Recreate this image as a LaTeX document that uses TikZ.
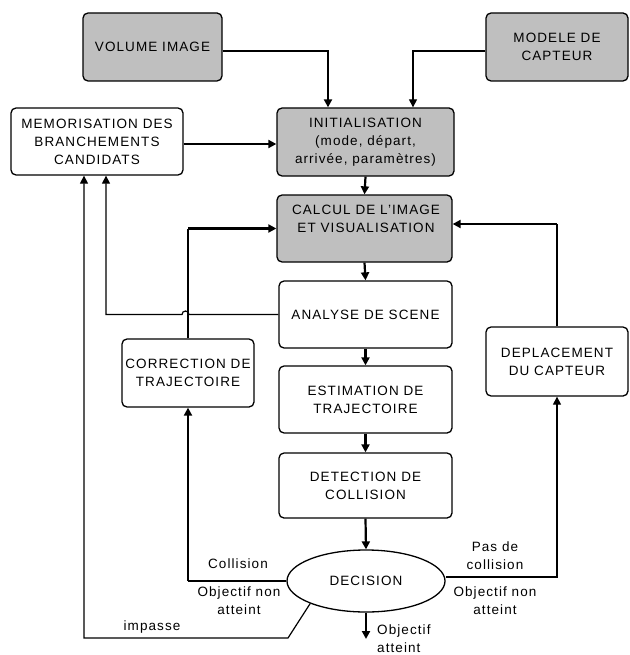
\documentclass[tikz,border=0pt]{standalone}
\usepackage{fontspec}
\setmainfont{Liberation Sans}[LetterSpace=8]
\usetikzlibrary{arrows.meta,shapes.geometric,calc}
\begin{document}
\begin{tikzpicture}[x=1pt,y=-1pt,
  txt/.style={font=\fontsize{13.5}{18}\selectfont, align=center, inner sep=0pt},
  box/.style={txt, draw, line width=1.3pt, rounded corners=5pt},
  graybox/.style={box, fill=black!25},
  thin arrow/.style={line width=1.2pt, -{Triangle[length=8pt,width=8pt]}},
  thick arrow/.style={line width=2.2pt, -{Triangle[length=8pt,width=8pt]}},
  thinline/.style={line width=1.2pt},
  thickline/.style={line width=2.2pt},
  lab/.style={txt}
]
\useasboundingbox (0,0) rectangle (629,655);

\node[graybox, minimum width=139pt, minimum height=68pt] (vol) at (152.5,47) {VOLUME IMAGE};
\node[graybox, minimum width=142pt, minimum height=68pt] (mod) at (557,47) {MODELE DE\\CAPTEUR};
\node[graybox, minimum width=177pt, minimum height=68pt] (init) at (365.5,142) {INITIALISATION\\(mode, départ,\\arrivée, paramètres)};
\node[box, minimum width=172pt, minimum height=67pt] (memo) at (97,141.5) {MEMORISATION DES\\BRANCHEMENTS\\CANDIDATS};
\node[graybox, minimum width=175pt, minimum height=67pt] (calc) at (364.5,228.5) {};
\node[txt] (calct) at (366,219) {CALCUL DE L'IMAGE\\ET VISUALISATION};
\node[box, minimum width=173pt, minimum height=67pt] (ana) at (365.5,314.5) {ANALYSE DE SCENE};
\node[box, minimum width=132pt, minimum height=68pt] (corr) at (188,373) {CORRECTION DE\\TRAJECTOIRE};
\node[box, minimum width=173pt, minimum height=67pt] (est) at (365.5,399.5) {ESTIMATION DE\\TRAJECTOIRE};
\node[box, minimum width=173pt, minimum height=65pt] (det) at (365.5,485.5) {DETECTION DE\\COLLISION};
\node[box, minimum width=142pt, minimum height=69pt] (dep) at (557,361.5) {DEPLACEMENT\\DU CAPTEUR};
\node[txt, draw, line width=1.3pt, ellipse, minimum width=158pt, minimum height=62pt] (dec) at (366,581) {DECISION};

% inputs to initialisation
\draw[thick arrow] ([yshift=-4pt]vol.east) -| ($(init.north)+(-37.5,0)$);
\draw[thin arrow] ([yshift=-4pt]mod.west) -| ($(init.north)+(47.5,0)$);
\draw[thick arrow] ([yshift=-2.5pt]memo.east) -- ([yshift=-2.5pt]memo.east -| init.west);

% main chain
\draw[thick arrow] (init.south) -- (calc.north);
\draw[thick arrow] (calc.south) -- (ana.north);
\draw[thick arrow] (ana.south) -- (est.north);
\draw[thick arrow] (est.south) -- (det.north);
\draw[thick arrow] (det.south) -- (dec.north);

% correction -> calcul
\coordinate (cc) at (corr.north |- calc.west);
\draw[thinline] (corr.north) -- (cc);
\draw[thick arrow] (cc) -- (calc.west);

% deplacement -> calcul
\coordinate (dc) at ([yshift=4.5pt]calc.east -| dep.north);
\draw[thinline] (dep.north) -- (dc);
\draw[thick arrow] (dc) -- ([yshift=4.5pt]calc.east);

% analyse -> memorisation (with hop)
\coordinate (m2) at ($(memo.south)+(9,0)$);
\coordinate (hop) at ($(ana.west -| corr.north)+(1,0)$);
\draw[thin arrow] (ana.west) -- (hop) arc[start angle=0, end angle=-180, radius=3.5] -- (ana.west -| m2) -- (m2);

% decision -> correction
\coordinate (dl) at (dec.west -| corr.south);
\draw[thinline] (dec.west) -- (dl);
\draw[thick arrow] (dl) -- (corr.south);

% decision -> deplacement
\coordinate (dr) at ([yshift=4pt]dec.east -| dep.south);
\draw[thin arrow] ([yshift=4pt]dec.east) -- (dr) -- (dep.south);
\draw[thickline] (dr) -- ($(dr)+(0,-85)$);

% impasse
\coordinate (m1) at ($(memo.south)+(-13,0)$);
\coordinate (ic) at (288,638);
\draw[thin arrow] (dec.202) -- (ic) -- (ic -| m1) -- (m1);

% objectif atteint
\coordinate (goal) at (366,639);
\draw[thick arrow] (dec.south) -- (goal);

% labels
\node[lab] (l1) at (238,564) {Collision};
\node[lab] (l2) at (239,601) {Objectif non\\atteint};
\node[lab] (l3) at (152,627) {impasse};
\node[lab] (l4) at (495,556) {Pas de\\collision};
\node[lab] (l5) at (495,601) {Objectif non\\atteint};
\node[lab, anchor=north west, align=left] (l6) at (377,625) {Objectif\\atteint};
\end{tikzpicture}
\end{document}
